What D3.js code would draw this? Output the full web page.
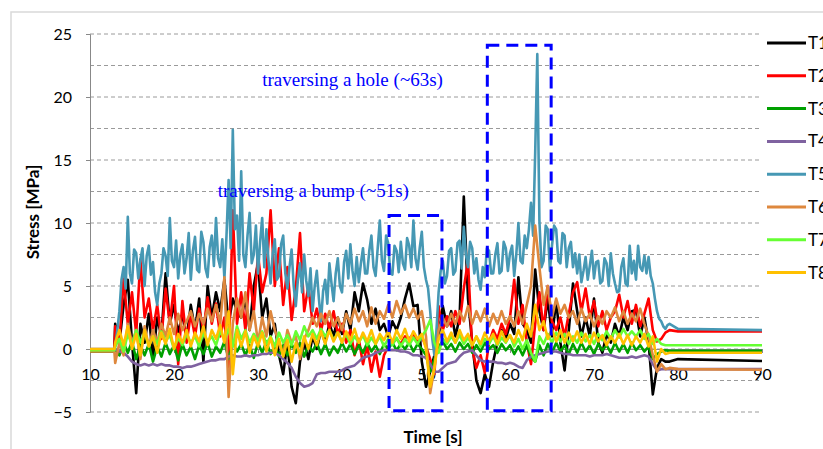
<!DOCTYPE html>
<html>
<head>
<meta charset="utf-8">
<script src="https://cdn.jsdelivr.net/npm/d3@7"></script>
<style>
  body { margin: 0; background: #fff; }
  svg { display: block; }
</style>
</head>
<body>
<div id="plot"></div>
<script>
// stress traces T1..T8 while the vehicle moves
const seriesNames = ["T1", "T2", "T3", "T4", "T5", "T6", "T7", "T8"];
const seriesColors = ["#000000", "#ff0000", "#00a000", "#7f62a0", "#4698b4", "#de883e", "#66ff33", "#ffc000"];

// 10 s and 12.9 s (standing still), then 13.0 .. 79.0 s, then 80 s and 90 s
const time = [10, 12.9, ...d3.range(13, 79.1, 0.5), 80, 90];      // every 0.5 s
const timeFine = [10, 12.9, ...d3.range(13, 79.1, 0.25), 80, 90]; // every 0.25 s (T5)

const T1 = [-0.1, -0.1,
  2.0, 0.5, 3.5, 5.5, 0.5, -3.5, 2.0, 0.5, 2.8, -0.8,
  2.5, 1.0, 6.0, 2.0, 3.5, 1.2, 2.8, 0.8, 3.5, 1.5,
  4.0, -1.0, 5.0, 2.5, 4.5, 3.0, 5.5, 2.0, 4.0, 3.0,
  2.5, 4.0, 1.5, 5.0, 6.8, 2.5, 4.0, 1.0, 2.0, -0.5,
  -2.0, 0.5, -3.0, -4.3, -1.0, 0.5, -0.8, 1.0, 0.0, 1.5,
  0.5, 2.0, 1.0, 2.5, 1.2, 3.0, 1.5, 4.5, 3.0, 5.2,
  3.9, 2.0, 3.2, 1.5, 2.0, 1.0, 2.2, 1.5, 2.5, 4.0,
  5.2, 3.4, 3.5, -1.0, -3.0, -1.8, -0.5, 1.0, 3.4, 1.8,
  3.0, 1.0, 2.5, 12.1, 4.0, 0.5, -2.5, -3.5, -2.0, -3.0,
  -1.0, 0.5, 1.5, 0.8, 2.0, 1.2, 5.7, 2.0, 1.5, 0.5,
  6.3, 3.0, 1.5, 4.0, 1.0, 3.8, 0.5, -1.7, 1.5, 5.2,
  3.0, 1.0, 2.5, 1.0, 4.0, 0.5, -0.3, 1.2, 0.5, 2.0,
  1.0, 2.5, 1.5, 3.0, 3.1, 1.0, 2.5, 0.5, -3.6, -1.5,
  -0.8, -1.0, -1.0, -0.8, -0.95];

const T2 = [-0.2, -0.2,
  1.8, 0.5, 5.6, 2.0, 4.5, 1.2, 7.1, 2.5, 4.0, 1.5,
  3.5, 0.8, 4.8, 2.0, 5.0, -1.2, 3.8, 0.5, 2.8, 1.0,
  3.2, 1.5, 4.1, 2.0, 3.6, 1.0, 2.5, -1.5, 11.0, 2.0,
  4.5, 1.5, 6.0, 3.0, 7.5, 4.5, 6.0, 11.0, 5.0, 8.0,
  3.5, 6.5, 2.3, 4.8, 9.2, 3.0, 5.0, 2.0, 3.2, 1.5,
  2.8, 1.6, 3.0, 1.2, 2.0, 0.5, 1.5, -0.5, 0.8, -1.2,
  0.3, -1.8, -0.2, -2.2, -0.5, 0.2, 0.5, 0.8, 0.4, 1.0,
  0.8, 1.2, 0.6, 1.0, 0.2, -0.8, -2.0, 3.4, 1.5, 2.6,
  1.8, 3.0, 2.0, 4.8, 7.0, 0.0, -1.5, -0.5, -1.9, 0.5,
  1.5, 0.8, 2.0, 1.2, 2.5, 5.5, 2.0, 3.5, 0.5, -1.2,
  2.0, 4.5, 1.5, 5.0, 2.2, 1.5, 2.5, 1.0, 2.8, 4.5,
  5.3, 3.0, 4.8, 2.5, 3.8, 1.8, 3.0, 1.5, 2.5, 3.0,
  4.3, 2.5, 3.8, 2.0, 3.5, 1.8, 2.8, 4.0, 1.5, 0.6,
  0.8, 1.3, 1.5, 1.4, 1.4];

const T3 = [-0.2, -0.2,
  0.0, -0.5, 0.5, -0.3, 0.6, -0.8, 0.3, -0.5, 0.4, -1.0,
  0.2, -0.6, 0.5, -0.4, 0.3, -0.9, 0.4, -0.5, 0.2, -0.8,
  0.3, -0.4, 0.5, -0.6, 0.2, -0.3, 0.6, -0.8, 0.5, -0.2,
  0.4, -0.5, 0.3, -0.7, 0.5, -0.3, 0.6, -0.4, 0.2, -0.6,
  0.3, -0.5, 0.4, -0.3, 0.5, -0.6, 0.3, -0.2, 0.5, -0.4,
  0.4, -0.5, 0.2, -0.3, 0.5, -0.2, 0.4, -0.4, 0.3, -0.3,
  0.5, -0.2, 0.3, -0.4, 0.4, 0.0, 0.5, -0.1, 0.4, 0.0,
  0.5, -0.2, 0.4, 0.0, -0.5, -1.8, -0.8, 0.2, 0.6, 0.0,
  0.4, -0.2, 0.5, 0.0, 0.4, -0.3, 0.3, -0.2, 0.5, 0.0,
  0.3, -0.3, 0.4, -0.1, 0.3, -0.4, 0.2, -0.5, 0.3, -0.6,
  -1.0, 0.3, -0.5, 0.4, -0.3, 0.5, -0.2, 0.3, -0.4, 0.4,
  -0.3, 0.5, -0.2, 0.3, -0.4, 0.4, -0.1, 0.3, -0.3, 0.5,
  -0.2, 0.4, -0.3, 0.5, -0.1, 0.3, -0.2, 0.2, -0.8, -0.4,
  -0.2, -0.1, -0.15, -0.15, -0.15];

const T4 = [0.0, 0.0,
  0.0, -0.2, -0.3, -0.6, -1.0, -1.2, -1.3, -1.2, -1.3, -1.2,
  -1.3, -1.2, -1.3, -1.3, -1.4, -1.4, -1.5, -1.4, -1.4, -1.3,
  -1.2, -1.1, -1.0, -0.9, -0.9, -0.8, -0.8, -0.6, -0.5, -0.6,
  -0.6, -0.5, -0.6, -0.5, -0.5, -0.4, -0.4, -0.3, -0.3, -0.5,
  -0.8, -1.1, -1.5, -2.2, -2.7, -3.0, -2.9, -2.7, -2.0, -1.9,
  -1.9, -1.8, -1.8, -1.8, -1.7, -1.5, -1.4, -1.3, -1.0, -0.7,
  -0.6, -0.5, -0.3, -0.2, -0.1, -0.1, -0.1, -0.1, -0.2, -0.2,
  -0.3, -0.5, -0.5, -0.6, -0.7, -1.2, -1.8, -1.8, -1.5, -1.2,
  -1.1, -1.0, -0.6, -0.3, -0.2, -0.1, -0.5, -0.9, -1.0, -1.0,
  -1.0, -1.1, -1.1, -1.2, -1.1, -1.2, -1.4, -1.5, -0.9, -0.6,
  -0.5, -0.4, -0.3, -0.2, -0.2, -0.2, -0.3, -0.4, -0.4, -0.5,
  -0.5, -0.5, -0.5, -0.6, -0.5, -0.5, -0.5, -0.4, -0.5, -0.6,
  -0.7, -0.7, -0.7, -0.6, -0.7, -0.6, -0.5, -0.6, -1.2, -1.7,
  -1.6, -1.6, -1.6, -1.6, -1.6];

// T5 on the 0.25 s grid
const T5 = [-0.1, -0.1,
  0.2, 1.5, 3.0, 5.5, 6.5, 4.8, 10.5, 6.0, 5.2, 7.9, 7.6, 5.6, 7.1, 8.0, 5.0, 7.4, 8.2, 5.9, 6.9, 4.5,
  3.5, 5.2, 6.0, 8.0, 7.4, 5.8, 10.4, 7.0, 6.5, 8.6, 5.6, 7.5, 8.3, 6.0, 7.2, 9.2, 5.5, 7.8, 8.9, 6.3,
  6.1, 9.3, 8.5, 6.4, 5.7, 8.1, 9.0, 6.6, 10.4, 7.2, 6.5, 8.7, 5.6, 9.0, 13.4, 8.0, 17.4, 9.5, 10.6, 7.0,
  14.1, 7.5, 6.5, 9.0, 10.8, 6.8, 7.5, 9.8, 6.0, 8.5, 10.4, 6.5, 9.5, 7.0, 5.2, 7.6, 8.7, 5.5, 5.8, 8.3,
  9.0, 6.0, 4.8, 6.5, 7.9, 5.0, 3.4, 5.5, 6.8, 4.5, 7.5, 5.4, 4.2, 6.4, 3.0, 5.0, 6.2, 4.0, 2.2, 4.6,
  5.5, 3.6, 6.8, 5.2, 3.8, 6.0, 7.2, 5.0, 4.5, 6.9, 7.8, 5.6, 8.3, 6.2, 5.0, 7.3, 5.3, 6.8, 8.0, 6.0,
  6.0, 7.8, 9.0, 6.5, 5.8, 8.0, 10.2, 7.0, 6.2, 9.0, 8.4, 6.0, 5.9, 8.2, 7.8, 6.1, 8.5, 6.8, 6.3, 8.8,
  8.2, 6.5, 10.2, 7.2, 6.3, 8.0, 9.3, 6.5, 5.5, 4.8, 3.0, 0.8, -0.5, 1.5, 4.5, 6.2, 7.0, 5.2, 5.8, 7.8,
  8.0, 5.9, 6.2, 8.4, 8.6, 6.4, 9.7, 7.5, 6.5, 8.5, 8.0, 6.0, 7.2, 5.5, 4.7, 6.5, 5.7, 8.0, 7.8, 6.0,
  6.0, 7.5, 8.4, 6.0, 6.2, 8.5, 8.0, 6.2, 7.6, 8.2, 5.8, 7.5, 10.0, 7.0, 6.8, 9.0, 8.0, 9.5, 11.6, 9.0,
  15.6, 23.4, 10.2, 6.5, 7.0, 9.8, 9.5, 6.2, 8.2, 9.8, 9.5, 7.0, 6.8, 9.2, 9.0, 6.5, 8.0, 8.5, 6.5, 7.6,
  6.0, 7.5, 5.3, 6.2, 7.3, 5.5, 6.6, 7.8, 5.6, 6.9, 7.0, 5.2, 5.4, 7.2, 6.8, 5.0, 7.6, 6.0, 5.2, 4.5,
  4.6, 6.5, 7.2, 5.2, 5.0, 8.2, 6.0, 7.0, 5.5, 8.2, 6.5, 6.2, 7.4, 6.0, 7.3, 5.8, 5.2, 4.0, 3.0, 2.4,
  2.2, 1.8, 1.6, 1.9, 2.0, 1.6, 1.5];

const T6 = [-0.2, -0.2,
  -1.1, 0.5, -0.5, 2.0, 0.5, 1.5, -0.8, 1.8, 0.2, 1.5,
  0.5, 2.0, 1.0, 2.5, 1.2, 2.8, 1.5, 2.2, 3.0, 1.8,
  2.8, 2.0, 3.2, 2.2, 3.5, 2.0, 5.7, -3.8, 2.0, 4.0,
  2.5, 4.5, 1.5, 3.0, 0.5, 2.5, 1.0, 3.0, 1.5, 0.5,
  -0.5, 1.5, 0.5, 1.0, -0.8, 0.8, 1.5, 2.5, 1.8, 2.8,
  2.0, 3.0, 1.8, 2.5, 1.5, 2.8, 2.0, 3.2, 2.2, 3.0,
  1.8, 3.3, 2.0, 3.0, 2.4, 3.5, 2.5, 3.8, 2.8, 3.5,
  2.5, 3.2, 2.4, 3.0, 1.0, -3.5, -1.5, 1.5, 2.5, 1.8,
  2.8, 2.0, 3.0, 2.2, 3.4, 2.0, 3.0, 2.2, 3.2, 1.8,
  2.8, 2.0, 3.0, 2.0, 2.6, 1.8, 3.0, 2.0, 3.5, 5.0,
  9.8, 6.5, 3.5, 5.0, 2.5, 4.0, 2.8, 3.5, 2.5, 3.0,
  2.0, 3.2, 2.2, 2.8, 1.8, 2.6, 2.0, 3.0, 2.5, 3.3,
  2.2, 3.0, 2.0, 2.8, 2.2, 3.2, 2.0, 1.0, -0.5, -1.8,
  -1.2, -1.6, -1.5, -1.6, -1.65];

const T7 = [-0.1, -0.1,
  0.2, 0.8, -0.2, 1.2, 0.3, 1.5, 0.5, 1.3, 0.2, 1.0,
  0.4, 1.4, 0.6, 1.1, 0.0, 0.9, 0.3, 1.2, 0.5, 1.0,
  0.2, 1.3, 0.6, 1.0, 0.3, 1.4, 0.8, 1.6, 0.2, 1.8,
  0.8, 1.5, 0.5, 1.2, 0.6, 1.4, 0.4, 1.0, 0.2, 1.3,
  0.5, 1.1, 0.3, 1.4, 0.7, 1.8, 1.0, 1.5, 0.8, 1.6,
  1.0, 1.5, 0.7, 1.3, 0.6, 1.2, 0.4, 1.0, 0.5, 1.1,
  0.3, 0.9, 0.4, 1.0, 0.2, 0.8, 0.3, 0.9, 0.2, 0.8,
  0.3, 0.9, 0.4, 1.0, 1.5, 2.3, 0.5, -0.3, 0.8, 0.4,
  1.0, 0.5, 1.1, 0.4, 0.9, 0.3, 1.0, 0.2, 0.8, 0.4,
  1.0, 0.3, 0.9, 0.5, 1.1, 0.2, 0.8, 0.0, 0.7, -0.3,
  -1.0, 1.0, 0.4, 1.2, 0.5, 1.3, 0.6, 1.2, 0.4, 1.0,
  0.5, 1.3, 0.6, 1.1, 0.4, 1.2, 0.7, 1.4, 0.8, 1.5,
  0.9, 1.6, 1.0, 1.4, 1.0, 1.5, 0.8, 1.2, 0.4, 0.8,
  0.4, 0.3, 0.3, 0.3, 0.3];

const T8 = [0.0, 0.0,
  0.5, 1.5, 0.3, 1.8, 0.0, 1.2, -0.5, 1.5, 0.2, 1.0,
  -0.3, 1.3, 0.4, 1.6, 0.0, 1.2, 0.5, 1.5, 0.2, 1.3,
  0.6, 1.8, 0.3, 1.5, 0.8, 1.9, 0.5, 3.0, -2.0, 1.5,
  0.2, 1.4, -0.3, 1.0, 0.2, 1.3, -0.2, 0.9, -0.5, 0.8,
  -0.6, 0.7, -1.0, 0.5, -0.4, 1.0, 0.0, 1.2, 0.3, 1.4,
  0.4, 1.5, 0.6, 1.3, 0.5, 1.4, 0.7, 1.6, 0.5, 1.3,
  0.6, 1.5, 0.4, 1.2, 0.7, 1.4, 0.5, 1.5, 0.8, 1.6,
  0.6, 1.4, 0.8, 1.2, 0.0, -3.0, -1.5, 0.8, 1.5, 0.6,
  1.3, 0.5, 1.5, 0.7, 1.2, 0.3, 1.0, 0.4, 1.3, 0.6,
  1.2, 0.4, 1.4, 0.6, 1.1, 0.5, 1.5, 0.7, 2.0, 1.0,
  3.5, 1.5, 2.2, 0.8, 1.6, 0.6, 1.5, 0.5, 1.3, 0.6,
  1.4, 0.5, 1.2, 0.4, 1.3, 0.6, 1.1, 0.3, 1.0, 0.5,
  1.2, 0.4, 1.1, 0.3, 1.0, 0.5, 1.2, 0.2, 1.0, -1.0,
  0.0, -0.4, -0.3, -0.3, -0.3];

const allSeries = [T1, T2, T3, T4, T5, T6, T7, T8];
const seriesTimes = [time, time, time, time, timeFine, time, time, time];

const xTicks = [10, 20, 30, 40, 50, 60, 70, 80, 90];
const yTicks = [-5, 0, 5, 10, 15, 20, 25];
const gridLevels = [-5, -2.5, 0, 2.5, 5, 7.5, 10, 12.5, 15, 17.5, 20, 22.5, 25];

// annotation boxes and labels, in data units
const boxes = [
  {t0: 45.6, t1: 51.9, v0: -4.9, v1: 10.6},
  {t0: 57.3, t1: 64.9, v0: -4.9, v1: 24.1}
];
const notes = [
  {text: "traversing a hole (~63s)", t: 30.5, v: 20.9},
  {text: "traversing a bump (~51s)", t: 25.2, v: 12.05}
];

const width = 823, height = 449;

const svg = d3.select("#plot")
  .append("svg")
  .attr("width", width)
  .attr("height", height);

const x = d3.scaleLinear().domain([10, 90]).range([90, 762]);
const y = d3.scaleLinear().domain([-5, 25]).range([412, 34]);

// outer chart frame (runs off the right and bottom edge)
svg.append("rect")
  .attr("x", 11)
  .attr("y", 12)
  .attr("width", 900)
  .attr("height", 500)
  .attr("fill", "none")
  .attr("stroke", "#d9d9d9")
  .attr("stroke-width", 1.5);

svg.append("g")
  .selectAll("line")
  .data(gridLevels)
  .join("line")
    .attr("x1", x(10))
    .attr("x2", x(90))
    .attr("y1", d => y(d))
    .attr("y2", d => y(d))
    .attr("stroke", "#9a9a9a")
    .attr("stroke-width", 1)
    .attr("stroke-dasharray", "4,3");

const yAxis = svg.append("g")
  .attr("transform", `translate(${x(10)},0)`)
  .call(d3.axisLeft(y).tickValues(yTicks).tickSize(4).tickPadding(14));
yAxis.select(".domain").attr("stroke", "#888");
yAxis.selectAll(".tick line").attr("stroke", "#888");
yAxis.selectAll("text")
  .style("font-family", "Lato, 'Open Sans', sans-serif")
  .style("font-size", "16px")
  .attr("fill", "#000");

const xAxis = svg.append("g")
  .attr("transform", `translate(0,${y(0)})`)
  .call(d3.axisBottom(x).tickValues(xTicks).tickSize(4).tickPadding(16).tickFormat(d3.format("d")));
xAxis.select(".domain").attr("stroke", "#888");
xAxis.selectAll(".tick line").attr("stroke", "#888");
xAxis.selectAll("text")
  .style("font-family", "Lato, 'Open Sans', sans-serif")
  .style("font-size", "16px")
  .attr("fill", "#000");

svg.append("text")
  .attr("transform", "rotate(-90)")
  .attr("x", -212)
  .attr("y", 39)
  .attr("text-anchor", "middle")
  .style("font-family", "Lato, 'Open Sans', sans-serif")
  .style("font-weight", "bold")
  .style("font-size", "17px")
  .text("Stress [MPa]");

svg.append("text")
  .attr("x", 433)
  .attr("y", 443)
  .attr("text-anchor", "middle")
  .style("font-family", "Lato, 'Open Sans', sans-serif")
  .style("font-weight", "bold")
  .style("font-size", "17px")
  .text("Time [s]");

svg.append("g")
  .selectAll("path")
  .data(allSeries)
  .join("path")
    .attr("d", (d, k) => d3.line()
      .x((v, i) => x(seriesTimes[k][i]))
      .y(v => y(v))(d))
    .attr("fill", "none")
    .attr("stroke", (d, i) => seriesColors[i])
    .attr("stroke-width", 2.6)
    .attr("stroke-linejoin", "round");

svg.append("g")
  .selectAll("rect")
  .data(boxes)
  .join("rect")
    .attr("x", d => x(d.t0))
    .attr("y", d => y(d.v1))
    .attr("width", d => x(d.t1) - x(d.t0))
    .attr("height", d => y(d.v0) - y(d.v1))
    .attr("fill", "none")
    .attr("stroke", "#0000ff")
    .attr("stroke-width", 3)
    .attr("stroke-dasharray", "12,7");

svg.append("g")
  .selectAll("text")
  .data(notes)
  .join("text")
    .attr("x", d => x(d.t))
    .attr("y", d => y(d.v))
    .style("font-family", "'Liberation Serif', 'DejaVu Serif', serif")
    .style("font-size", "19px")
    .attr("fill", "#0000ff")
    .text(d => d.text);

const legend = svg.append("g")
  .attr("transform", "translate(767, 43)");

seriesNames.forEach((s, i) => {
  const g = legend.append("g")
    .attr("transform", `translate(0, ${i * 32.8})`);
  g.append("line")
    .attr("x1", 0)
    .attr("x2", 39)
    .attr("stroke", seriesColors[i])
    .attr("stroke-width", 3);
  g.append("text")
    .attr("x", 41)
    .attr("y", 6)
    .style("font-family", "Lato, 'Open Sans', sans-serif")
    .style("font-size", "17px")
    .text(s);
});
</script>
</body>
</html>
